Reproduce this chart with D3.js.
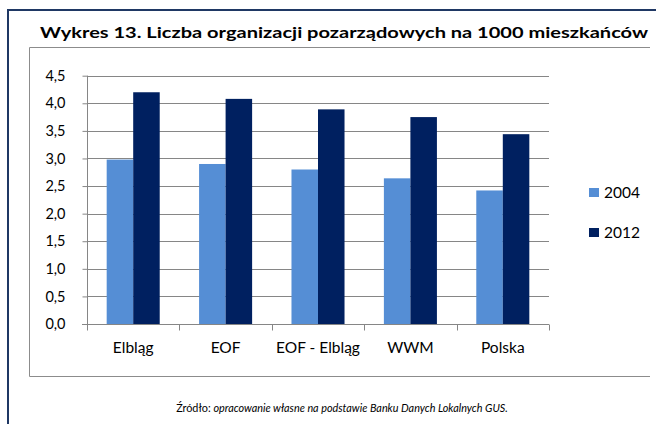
<!DOCTYPE html>
<html>
<head>
<meta charset="utf-8">
<script src="https://cdn.jsdelivr.net/npm/d3@7"></script>
<style>
  body { margin: 0; background: #fff; }
  svg { display: block; font-family: Lato, "Open Sans", sans-serif; }
</style>
</head>
<body>
<svg id="chart" width="656" height="424"></svg>
<script>
// data
let categories = ["Elbląg", "EOF", "EOF - Elbląg", "WWM", "Polska"]
let years = ["2004", "2012"]
let values2004 = [2.98, 2.90, 2.80, 2.64, 2.42]
let values2012 = [4.20, 4.08, 3.89, 3.75, 3.44]
let yTicks = [0, 0.5, 1, 1.5, 2, 2.5, 3, 3.5, 4, 4.5]
let colors = ["#558ed5", "#002060"]

let rows = categories.map((c, i) => ({ cat: c, vals: [values2004[i], values2012[i]] }))

let svg = d3.select("#chart")

// outer navy frame (only top and left visible)
svg.append("path")
  .attr("d", "M8,424 V10 H656")
  .attr("fill", "none")
  .attr("stroke", "#1f3864")
  .attr("stroke-width", 2)

// title
svg.append("text")
  .attr("x", 344)
  .attr("y", 38)
  .attr("text-anchor", "middle")
  .attr("font-weight", "bold")
  .attr("font-size", 16)
  .attr("textLength", 608)
  .attr("lengthAdjust", "spacingAndGlyphs")
  .attr("fill", "#000")
  .text("Wykres 13. Liczba organizacji pozarządowych na 1000 mieszkańców")

// chart box
svg.append("path")
  .attr("d", "M650,47.5 H29.5 V376.5 H650")
  .attr("fill", "none")
  .attr("stroke", "#8c8c8c")
  .attr("stroke-width", 1)

let x = d3.scaleBand()
  .domain(categories)
  .range([87, 549])
  .paddingInner(0.426)
  .paddingOuter(0.213)

let xs = d3.scaleBand()
  .domain(years)
  .range([0, x.bandwidth()])

let y = d3.scaleLinear()
  .domain([0, 4.5])
  .range([324, 75.7])

let fmt = d => d3.format(".1f")(d).replace(".", ",")

// gridlines
svg.append("g")
  .selectAll("line")
  .data(yTicks.slice(1))
  .join("line")
  .attr("x1", 87)
  .attr("x2", 549)
  .attr("y1", d => Math.round(y(d)) + 0.5)
  .attr("y2", d => Math.round(y(d)) + 0.5)
  .attr("stroke", "#868686")
  .attr("stroke-width", 1)

// bars
let groups = svg.append("g")
  .selectAll("g")
  .data(rows)
  .join("g")
  .attr("transform", d => "translate(" + x(d.cat) + ",0)")

groups.selectAll("rect")
  .data(d => d.vals.map((v, i) => ({ year: years[i], v: v, i: i })))
  .join("rect")
  .attr("x", d => xs(d.year))
  .attr("width", xs.bandwidth())
  .attr("y", d => y(d.v))
  .attr("height", d => y(0) - y(d.v))
  .attr("fill", d => colors[d.i])

// y axis
let yAxis = svg.append("g")
  .attr("transform", "translate(87.5,0)")
  .call(d3.axisLeft(y).tickValues(yTicks).tickFormat(fmt).tickSize(5).tickPadding(17))
yAxis.select(".domain").attr("stroke", "#868686").attr("d", "M0," + y(4.5) + "V" + y(0))
yAxis.selectAll(".tick line").attr("stroke", "#868686")
yAxis.selectAll(".tick text")
  .attr("font-size", 14.5)
  .attr("font-family", "Lato, sans-serif")
  .attr("fill", "#000")

// x axis
let xAxis = svg.append("g")
  .attr("transform", "translate(0," + (Math.round(y(0)) + 0.5) + ")")
xAxis.append("line")
  .attr("x1", 82).attr("x2", 549)
  .attr("stroke", "#868686")
let bounds = categories.map(c => x(c) - x.step() * x.paddingInner() / 2)
bounds.push(549)
xAxis.selectAll(".xt")
  .data(bounds)
  .join("line")
  .attr("class", "xt")
  .attr("x1", d => Math.round(d) + 0.5)
  .attr("x2", d => Math.round(d) + 0.5)
  .attr("y1", 0)
  .attr("y2", 6)
  .attr("stroke", "#868686")
xAxis.selectAll(".xl")
  .data(categories)
  .join("text")
  .attr("class", "xl")
  .attr("x", d => x(d) + x.bandwidth() / 2)
  .attr("y", 28.5)
  .attr("text-anchor", "middle")
  .attr("font-size", 15.5)
  .attr("fill", "#000")
  .text(d => d)

// legend
let legend = svg.append("g")
  .selectAll("g")
  .data(years)
  .join("g")
  .attr("transform", (d, i) => "translate(589," + (188 + i * 40) + ")")
legend.append("rect")
  .attr("width", 10)
  .attr("height", 9)
  .attr("fill", (d, i) => colors[i])
legend.append("text")
  .attr("x", 15)
  .attr("y", 10)
  .attr("font-size", 15.5)
  .attr("fill", "#000")
  .text(d => d)

// source line, font size fitted to the width seen in the reference
let src = svg.append("text")
  .attr("x", 342)
  .attr("y", 412)
  .attr("text-anchor", "middle")
  .attr("font-size", 12)
  .attr("fill", "#000")
src.append("tspan").text("Źródło: ")
src.append("tspan").attr("font-style", "italic").text("opracowanie własne na podstawie Banku Danych Lokalnych GUS.")
let srcLen = src.node().getComputedTextLength()
src.attr("font-size", 12 * 332 / srcLen)
</script>
</body>
</html>
